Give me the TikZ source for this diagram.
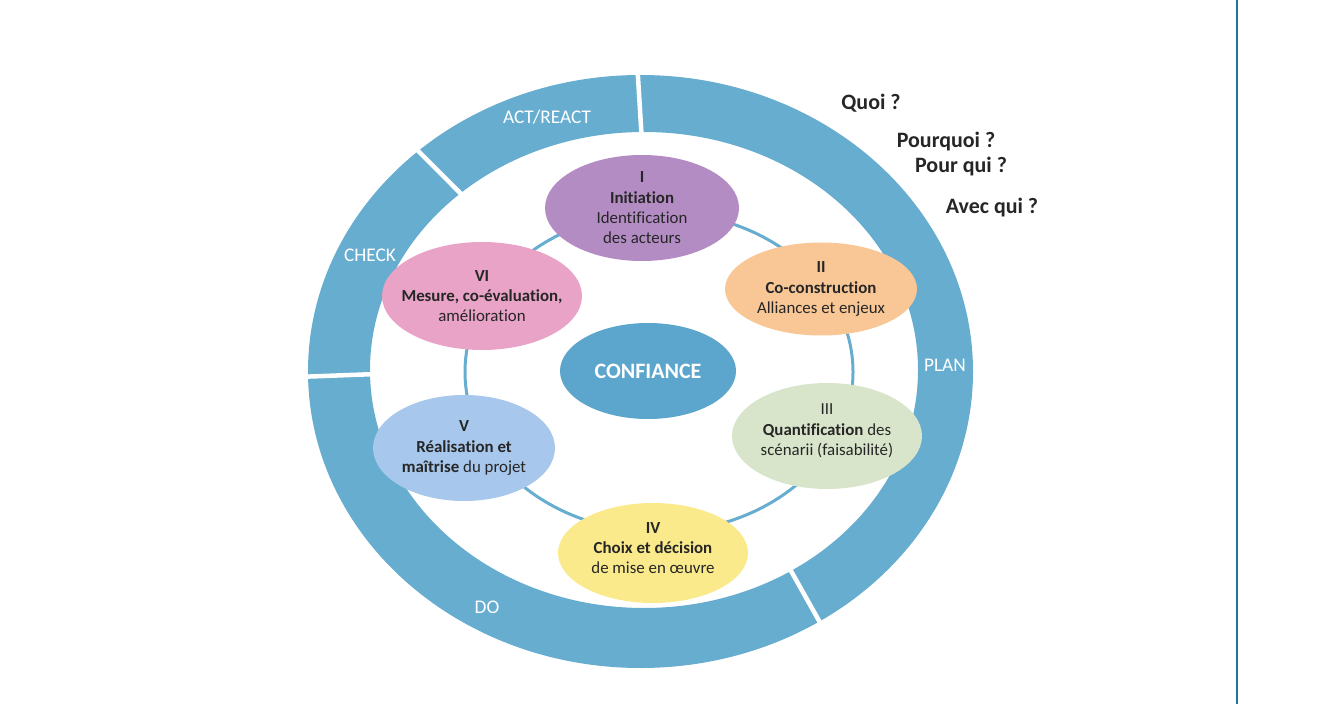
\documentclass[tikz,border=0pt]{standalone}
\usepackage{fontspec}
\setmainfont{Carlito}[Ligatures=NoCommon]
\usetikzlibrary{shapes.geometric}
\definecolor{ringblue}{RGB}{102,173,208}
\definecolor{coreblue}{RGB}{92,166,205}
\definecolor{phaseI}{RGB}{180,140,196}
\definecolor{phaseII}{RGB}{249,199,150}
\definecolor{phaseIII}{RGB}{217,229,203}
\definecolor{phaseIV}{RGB}{250,234,140}
\definecolor{phaseV}{RGB}{167,200,236}
\definecolor{phaseVI}{RGB}{233,163,198}
\definecolor{edgeline}{RGB}{31,118,150}

\begin{document}
\begin{tikzpicture}[every node/.style={font=\fontsize{9.6}{11.6}\selectfont,text=black!85},
  phase/.style={ellipse,inner sep=0pt},
  txt/.style={align=center,inner sep=0pt},
  ringlabel/.style={text=white,font=\fontsize{11}{13}\selectfont},
  question/.style={font=\fontsize{12.5}{15}\selectfont\bfseries}]
\useasboundingbox (0,0) rectangle (26.82,14.08);
% outer PDCA ring
\fill[ringblue,even odd rule] (12.81,6.65) ellipse [x radius=6.65,y radius=5.93]
  (12.88,6.68) ellipse [x radius=5.48,y radius=4.76];
\foreach \a in {90.5,132,181,-57.5}
  \draw[white,line width=0.09cm] ([shift={(12.88,6.68)}]\a:5.38 and 4.66) -- ([shift={(12.81,6.65)}]\a:6.75 and 6.03);
\node[ringlabel] (act) at (10.94,11.74) {ACT/REACT};
\node[ringlabel] (check) at (7.40,8.98) {CHECK};
\node[ringlabel] (plan) at (18.90,6.78) {PLAN};
\node[ringlabel] (do) at (9.74,1.94) {DO};
% cycle of phases
\draw[ringblue,line width=0.06cm] (13.18,6.64) ellipse [x radius=3.88,y radius=3.2];
\node[phase,fill=phaseI,minimum width=3.88cm,minimum height=2.12cm] (init) at (12.84,9.92) {};
\node[txt] (init-t) at (init) {\bfseries I\\\bfseries Initiation\\Identification\\des acteurs};
\node[phase,fill=phaseII,minimum width=3.84cm,minimum height=1.86cm] (cocon) at (16.42,8.30) {};
\node[txt] (cocon-t) at (cocon) {\bfseries II\\\bfseries Co-construction\\Alliances et enjeux};
\node[phase,fill=phaseIII,minimum width=3.80cm,minimum height=2.12cm] (quant) at (16.54,5.36) {};
\node[txt] (quant-t) at ([yshift=0.1cm]quant) {III\\{\bfseries Quantification} des\\scénarii (faisabilité)};
\node[phase,fill=phaseIV,minimum width=3.80cm,minimum height=2.0cm] (choix) at (13.06,3.02) {};
\node[txt] (choix-t) at ([yshift=0.1cm]choix) {\bfseries IV\\\bfseries Choix et décision\\de mise en œuvre};
\node[phase,fill=phaseV,minimum width=3.64cm,minimum height=2.12cm] (real) at (9.28,5.12) {};
\node[txt] (real-t) at (real) {\bfseries V\\\bfseries Réalisation et\\{\bfseries maîtrise} du projet};
\node[phase,fill=phaseVI,minimum width=4.0cm,minimum height=2.16cm] (mesure) at (9.64,8.16) {};
\node[txt] (mesure-t) at (mesure) {\bfseries VI\\\bfseries Mesure, co-évaluation,\\amélioration};
\node[phase,fill=coreblue,minimum width=3.52cm,minimum height=1.92cm,text=white,font=\fontsize{12.5}{14}\selectfont\bfseries] (conf) at (12.96,6.66) {CONFIANCE};
% questions
\node[question] (quoi) at (17.42,12.02) {Quoi ?};
\node[question] (pourquoi) at (18.92,11.24) {Pourquoi ?};
\node[question] (pourqui) at (19.22,10.74) {Pour qui ?};
\node[question] (avecqui) at (19.84,9.92) {Avec qui ?};
% page edge
\draw[edgeline,line width=0.04cm] (24.74,0) -- (24.74,14.08);
\end{tikzpicture}
\end{document}
